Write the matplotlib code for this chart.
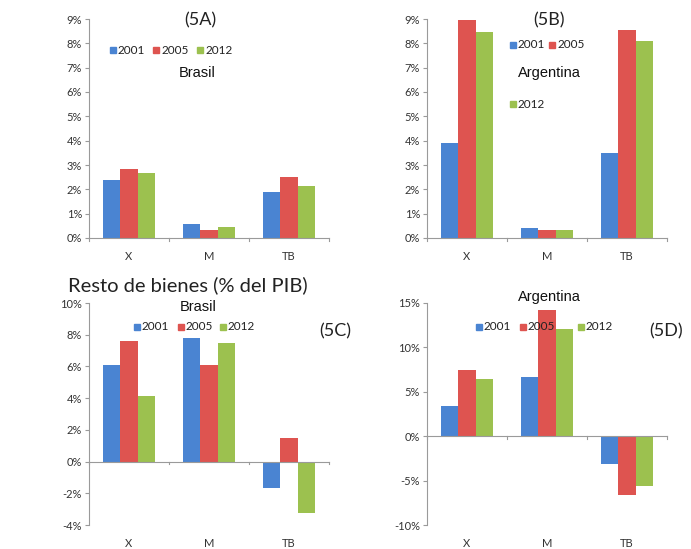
import matplotlib.pyplot as plt
import numpy as np
from matplotlib.patches import Rectangle
from matplotlib.ticker import FuncFormatter, FixedLocator

plt.rcParams['font.family'] = ['Lato', 'DejaVu Sans']

categories = ['X', 'M', 'TB']
years = ['2001', '2005', '2012']
colors = ['#4A84D2', '#DE5450', '#9CC14F']

# values in % of GDP, one list per year
bra_a = {'2001': [2.38, 0.56, 1.88], '2005': [2.82, 0.33, 2.50], '2012': [2.68, 0.44, 2.14]}
arg_b = {'2001': [3.89, 0.41, 3.48], '2005': [8.96, 0.34, 8.55], '2012': [8.45, 0.34, 8.10]}
bra_c = {'2001': [6.1, 7.8, -1.65], '2005': [7.6, 6.1, 1.47], '2012': [4.15, 7.45, -3.25]}
arg_d = {'2001': [3.4, 6.7, -3.1], '2005': [7.5, 14.2, -6.6], '2012': [6.4, 12.1, -5.6]}

W, H = 691, 549
fig = plt.figure(figsize=(W / 100, H / 100), dpi=100)


def make_ax(l, r, t, b):
    return fig.add_axes([l / W, 1 - b / H, (r - l) / W, (b - t) / H])


def bar_panel(ax, data, ylim, step):
    x = np.arange(len(categories))
    w = 0.22
    for i, yr in enumerate(years):
        ax.bar(x + (i - 1) * w, data[yr], w, color=colors[i], zorder=2)
    ax.set_xlim(-0.5, 2.5)
    ax.set_ylim(*ylim)
    ax.yaxis.set_major_locator(FixedLocator(np.arange(ylim[0], ylim[1] + 0.01, step)))
    ax.yaxis.set_major_formatter(FuncFormatter(lambda v, p: '%d%%' % round(v)))
    for s in ['top', 'right']:
        ax.spines[s].set_visible(False)
    ax.spines['bottom'].set_position(('data', 0))
    for s in ['left', 'bottom']:
        ax.spines[s].set_color('#9a9a9a')
        ax.spines[s].set_linewidth(0.8)
    ax.tick_params(axis='y', length=3, color='#9a9a9a', labelsize=8, labelcolor='#333333', pad=2)
    ax.set_xticks([])
    # category boundary ticks on the zero line
    for xb in [-0.5, 0.5, 1.5, 2.5]:
        ax.plot([xb, xb], [0, -(ylim[1] - ylim[0]) * 0.012], color='#9a9a9a', lw=0.8,
                clip_on=False)
    for xi, c in zip(x, categories):
        ax.annotate(c, (xi, 0), xycoords=('data', 'axes fraction'), xytext=(0, -13),
                    textcoords='offset points', ha='center', va='center', fontsize=8,
                    color='#333333')


def legend_item(x, y, i):
    fig.patches.append(Rectangle((x / W, 1 - (y + 3) / H), 6 / W, 6 / H, color=colors[i],
                                 transform=fig.transFigure, figure=fig))
    fig.text((x + 8) / W, 1 - y / H, years[i], fontsize=8.5, ha='left', va='center',
             color='#222222')


ax_a = make_ax(89, 329, 19, 238)
bar_panel(ax_a, bra_a, (0, 9), 1)
ax_b = make_ax(427, 667, 19, 238)
bar_panel(ax_b, arg_b, (0, 9), 1)
ax_c = make_ax(89, 329, 303, 525)
bar_panel(ax_c, bra_c, (-4, 10), 2)
ax_d = make_ax(427, 667, 303, 525)
bar_panel(ax_d, arg_d, (-10, 15), 5)

# titles and panel tags
fig.text(200 / W, 1 - 20 / H, '(5A)', fontsize=13, ha='center', va='center', color='#222222')
fig.text(549 / W, 1 - 20 / H, '(5B)', fontsize=13, ha='center', va='center', color='#222222')
fig.text(335 / W, 1 - 331 / H, '(5C)', fontsize=13, ha='center', va='center', color='#222222')
fig.text(666 / W, 1 - 331 / H, '(5D)', fontsize=13, ha='center', va='center', color='#222222')
fig.text(188 / W, 1 - 285 / H, 'Resto de bienes (% del PIB)', fontsize=14.5, ha='center',
         va='center', color='#222222')

for x, y, s in [(197, 73, 'Brasil'), (549, 73, 'Argentina'), (198, 307, 'Brasil'),
                (549, 297, 'Argentina')]:
    fig.text(x / W, 1 - y / H, s, fontsize=10.5, ha='center', va='center',
             family='Liberation Sans', color='#111111')

# legends
for i, (x, y) in enumerate([(110, 50), (153, 50), (197, 50)]):
    legend_item(x, y, i)
for i, (x, y) in enumerate([(510, 45), (549, 45), (510, 104)]):
    legend_item(x, y, i)
for i, (x, y) in enumerate([(134, 327), (178, 327), (220, 327)]):
    legend_item(x, y, i)
for i, (x, y) in enumerate([(476, 327), (520, 327), (578, 327)]):
    legend_item(x, y, i)

fig.savefig('out.png', dpi=100)
